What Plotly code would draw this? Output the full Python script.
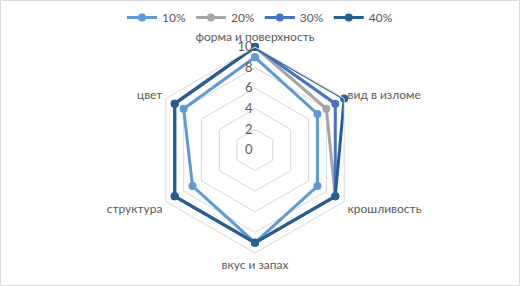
import plotly.graph_objects as go

categories = ["форма и поверхность", "вид в изломе", "крошливость", "вкус и запах", "структура", "цвет"]
series_names = ["10%", "20%", "30%", "40%"]
s10 = [9, 7, 7, 9, 7, 8]
s20 = [10, 8, 9, 9, 9, 9]
s30 = [10, 9, 9, 9, 9, 9]
s40 = [10, 10, 9, 9, 9, 9]
radial_ticks = [0, 2, 4, 6, 8, 10]

colors = ["#5B9BD5", "#A5A5A5", "#4472C4", "#255E91"]
series = [s10, s20, s30, s40]

fig = go.Figure()
for name, vals, col in zip(series_names, series, colors):
    fig.add_trace(go.Scatterpolar(
        r=vals + [vals[0]],
        theta=categories + [categories[0]],
        mode="lines+markers",
        name=name,
        line=dict(color=col, width=3),
        marker=dict(color=col, size=8),
    ))

W, H = 520, 286
cx, cy, R = 255, 150, 103
fig.update_layout(
    width=W, height=H,
    margin=dict(l=0, r=0, t=0, b=0),
    paper_bgcolor="white",
    plot_bgcolor="white",
    font=dict(family="Lato, Open Sans, sans-serif", size=12, color="#595959"),
    legend=dict(orientation="h", x=0.5, xanchor="center", y=1 - 3 / H, yanchor="top",
                font=dict(size=12, color="#595959"), itemwidth=30,
                bgcolor="rgba(0,0,0,0)", traceorder="normal"),
    polar=dict(
        domain=dict(x=[(cx - R) / W, (cx + R) / W], y=[1 - (cy + R) / H, 1 - (cy - R) / H]),
        bgcolor="white",
        gridshape="linear",
        radialaxis=dict(range=[0, 10], tickvals=radial_ticks, angle=90, tickangle=90,
                        showline=False, gridcolor="#D9D9D9", gridwidth=1, ticks="",
                        side="counterclockwise",
                        tickfont=dict(size=13, color="#595959")),
        angularaxis=dict(direction="clockwise", rotation=90, showgrid=False,
                         showline=True, linecolor="#D9D9D9", linewidth=1,
                         ticks="outside", ticklen=1, tickcolor="rgba(0,0,0,0)",
                         tickfont=dict(size=12, color="#595959")),
    ),
    shapes=[dict(type="rect", xref="paper", yref="paper", x0=0.5 / W, x1=1 - 0.5 / W,
                 y0=0.5 / H, y1=1 - 0.5 / H, line=dict(color="#D9D9D9", width=1))],
)

fig.write_html("out.html", config={"displayModeBar": False},
               post_script="document.body.style.margin='0';")
